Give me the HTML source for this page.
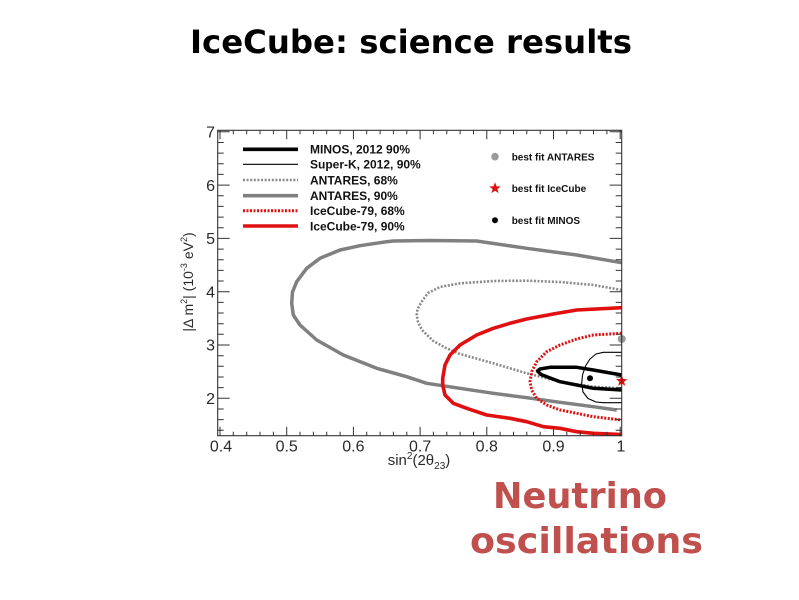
<!DOCTYPE html>
<html>
<head>
<meta charset="utf-8">
<style>
  html, body { margin:0; padding:0; background:#ffffff; }
  body { width:799px; height:600px; overflow:hidden; position:relative; }
  svg { position:absolute; left:0; top:0; }
</style>
</head>
<body>
<svg width="799" height="600" viewBox="0 0 799 600" xmlns="http://www.w3.org/2000/svg">
  <rect x="0" y="0" width="799" height="600" fill="#ffffff"/>

  <!-- Slide title -->
  <text x="190" y="53" font-family="'DejaVu Sans', sans-serif" font-weight="bold" font-size="32" fill="#000" textLength="442" lengthAdjust="spacingAndGlyphs">IceCube: science results</text>

  <!-- Curves -->
  <g fill="none" stroke-linejoin="round" stroke-linecap="butt">
    <!-- ANTARES 90% -->
    <path d="M621.7,262.7 L576.7,255 L526.7,248.3 L476.7,241 L430,240.5 L393.3,241 L386.7,241.7 L360,245.7 L340,250 L320,258.3 L306.7,268.3 L296.7,281.7 L292.5,292 L291.7,303.3 L293.3,315 L300,325 L316.7,340 L343.3,355 L376.7,368.3 L406.7,376.7 L426.7,383.3 L460,388.3 L493.3,393.3 L526.7,397.7 L560,402.3 L593.3,406.7 L616.7,410" stroke="#808080" stroke-width="3.5"/>
    <!-- ANTARES 68% -->
    <path d="M621.7,290 L593.3,285 L560,282 L526.7,280.7 L493.3,281 L460,283.3 L440,287 L428,293 L421.7,301.7 L417.5,309 L416.7,315 L418,322 L422,330 L433.3,341 L446,348 L460,354 L493.3,363.3 L526.7,373.3 L560,381.7 L593.3,386.7 L621.7,388.3" stroke="#8a8a8a" stroke-width="2.6" stroke-dasharray="2 1.6"/>
    <!-- IceCube 90% -->
    <path d="M621.7,307.7 L576.7,310 L553.3,314 L526.7,319 L510,323.3 L493.3,328.3 L476.7,335 L460,345 L450,355 L445,365 L442.7,378.3 L442.7,385 L445,395 L453.3,403.3 L466.7,408.3 L486.7,415 L510,418.3 L526.7,421.7 L543.3,426.7 L560,428.3 L576.7,431.7 L593.3,433.3 L621.7,434.5" stroke="#e01010" stroke-width="3.6"/>
    <!-- IceCube 68% -->
    <path d="M621.7,333.3 L593.3,335 L576.7,339 L560,345 L546.7,351.7 L536.7,361.7 L531.7,371.7 L530,381.7 L531.7,390 L536.7,398.3 L546.7,405 L560,410 L576.7,413.3 L593.3,416.7 L621.7,420" stroke="#e01010" stroke-width="3" stroke-dasharray="2 1.5"/>
    <!-- MINOS 90% -->
    <path d="M621.7,375 L593.3,370 L576.7,367.3 L550,367.3 L540,369 L537.5,371 L541,374.5 L560,381.7 L593.3,388.3 L621.7,390" stroke="#000" stroke-width="3.5"/>
    <!-- Super-K 90% -->
    <path d="M621.7,352.3 L603.3,352.3 L596,354 L590,359 L585.5,366 L582.5,375 L581.7,383.3 L583,392 L588,398.5 L596,402 L603.3,402.7 L621.7,402.7" stroke="#000" stroke-width="1.1"/>
  </g>

  <!-- Best fit markers -->
  <circle cx="590" cy="378.3" r="3" fill="#000"/>
  <circle cx="621.7" cy="339" r="4" fill="#9a9a9a"/>
  <polygon transform="translate(621.7,381)" points="0,-6 1.47,-2.02 5.71,-1.85 2.38,0.77 3.53,4.85 0,2.5 -3.53,4.85 -2.38,0.77 -5.71,-1.85 -1.47,-2.02" fill="#e01010"/>

  <!-- Frame -->
  <rect x="217.7" y="130.3" width="404" height="305.4" fill="none" stroke="#333" stroke-width="1.1"/>

  <!-- Ticks -->
  <g stroke="#333" stroke-width="1" fill="none">
    <!-- bottom x ticks -->
    <path d="M220,435.7v-9 M233.3,435.7v-4 M246.7,435.7v-4 M260,435.7v-4 M273.4,435.7v-4 M286.7,435.7v-9 M300,435.7v-4 M313.4,435.7v-4 M326.7,435.7v-4 M340.1,435.7v-4 M353.4,435.7v-9 M366.7,435.7v-4 M380.1,435.7v-4 M393.4,435.7v-4 M406.8,435.7v-4 M420.1,435.7v-9 M433.4,435.7v-4 M446.8,435.7v-4 M460.1,435.7v-4 M473.5,435.7v-4 M486.8,435.7v-9 M500.1,435.7v-4 M513.5,435.7v-4 M526.8,435.7v-4 M540.2,435.7v-4 M553.5,435.7v-9 M566.8,435.7v-4 M580.2,435.7v-4 M593.5,435.7v-4 M606.9,435.7v-4 M620.2,435.7v-9"/>
    <!-- top x ticks -->
    <path d="M220,130.3v9 M233.3,130.3v4 M246.7,130.3v4 M260,130.3v4 M273.4,130.3v4 M286.7,130.3v9 M300,130.3v4 M313.4,130.3v4 M326.7,130.3v4 M340.1,130.3v4 M353.4,130.3v9 M366.7,130.3v4 M380.1,130.3v4 M393.4,130.3v4 M406.8,130.3v4 M420.1,130.3v9 M433.4,130.3v4 M446.8,130.3v4 M460.1,130.3v4 M473.5,130.3v4 M486.8,130.3v9 M500.1,130.3v4 M513.5,130.3v4 M526.8,130.3v4 M540.2,130.3v4 M553.5,130.3v9 M566.8,130.3v4 M580.2,130.3v4 M593.5,130.3v4 M606.9,130.3v4 M620.2,130.3v9"/>
    <!-- left y ticks -->
    <path d="M217.7,430.3h6 M217.7,419.6h6 M217.7,409h6 M217.7,398.3h12 M217.7,387.6h6 M217.7,377h6 M217.7,366.3h6 M217.7,355.7h6 M217.7,345h12 M217.7,334.3h6 M217.7,323.7h6 M217.7,313h6 M217.7,302.4h6 M217.7,291.7h12 M217.7,281h6 M217.7,270.4h6 M217.7,259.7h6 M217.7,249.1h6 M217.7,238.4h12 M217.7,227.7h6 M217.7,217.1h6 M217.7,206.4h6 M217.7,195.8h6 M217.7,185.1h12 M217.7,174.4h6 M217.7,163.8h6 M217.7,153.1h6 M217.7,142.5h6 M217.7,131.8h12"/>
    <!-- right y ticks -->
    <path d="M621.7,430.3h-6 M621.7,419.6h-6 M621.7,409h-6 M621.7,398.3h-12 M621.7,387.6h-6 M621.7,377h-6 M621.7,366.3h-6 M621.7,355.7h-6 M621.7,345h-12 M621.7,334.3h-6 M621.7,323.7h-6 M621.7,313h-6 M621.7,302.4h-6 M621.7,291.7h-12 M621.7,281h-6 M621.7,270.4h-6 M621.7,259.7h-6 M621.7,249.1h-6 M621.7,238.4h-12 M621.7,227.7h-6 M621.7,217.1h-6 M621.7,206.4h-6 M621.7,195.8h-6 M621.7,185.1h-12 M621.7,174.4h-6 M621.7,163.8h-6 M621.7,153.1h-6 M621.7,142.5h-6 M621.7,131.8h-12"/>
  </g>

  <!-- Tick labels -->
  <g font-family="'Liberation Sans', Arial, sans-serif" font-size="16" fill="#2a2a2a">
    <g text-anchor="middle">
      <text x="221" y="451.5">0.4</text>
      <text x="286.7" y="451.5">0.5</text>
      <text x="353.4" y="451.5">0.6</text>
      <text x="420.1" y="451.5">0.7</text>
      <text x="486.8" y="451.5">0.8</text>
      <text x="553.5" y="451.5">0.9</text>
      <text x="621" y="451.5">1</text>
    </g>
    <g text-anchor="end">
      <text x="215" y="404">2</text>
      <text x="215" y="350.7">3</text>
      <text x="215" y="297.4">4</text>
      <text x="215" y="244.1">5</text>
      <text x="215" y="190.8">6</text>
      <text x="215" y="137.5">7</text>
    </g>
  </g>

  <!-- Axis titles -->
  <text x="419" y="465" text-anchor="middle" font-family="'Liberation Sans', Arial, sans-serif" font-size="15" fill="#2a2a2a">sin<tspan font-size="10" dy="-6">2</tspan><tspan dy="6">(2θ</tspan><tspan font-size="10" dy="4">23</tspan><tspan dy="-4">)</tspan></text>
  <text transform="translate(193,282) rotate(-90)" x="0" y="0" text-anchor="middle" font-family="'Liberation Sans', Arial, sans-serif" font-size="14" fill="#2a2a2a">|Δ m<tspan font-size="9" dy="-6">2</tspan><tspan dy="6">| (10</tspan><tspan font-size="9" dy="-6">-3</tspan><tspan dy="6"> eV</tspan><tspan font-size="9" dy="-6">2</tspan><tspan dy="6">)</tspan></text>

  <!-- Legend (left) -->
  <g fill="none">
    <line x1="243" y1="149.3" x2="298" y2="149.3" stroke="#000" stroke-width="3.6"/>
    <line x1="243" y1="164.3" x2="298" y2="164.3" stroke="#000" stroke-width="1.1"/>
    <line x1="243" y1="180" x2="298" y2="180" stroke="#8a8a8a" stroke-width="2.6" stroke-dasharray="2 1.6"/>
    <line x1="243" y1="195.7" x2="298" y2="195.7" stroke="#808080" stroke-width="3.6"/>
    <line x1="243" y1="210.7" x2="298" y2="210.7" stroke="#e01010" stroke-width="3" stroke-dasharray="2 1.5"/>
    <line x1="243" y1="226" x2="298" y2="226" stroke="#e01010" stroke-width="3.6"/>
  </g>
  <g font-family="'Liberation Sans', Arial, sans-serif" font-size="12" font-weight="bold" fill="#111">
    <text x="310" y="153.7">MINOS, 2012 90%</text>
    <text x="310" y="168.7">Super-K, 2012, 90%</text>
    <text x="310" y="184.4">ANTARES, 68%</text>
    <text x="310" y="200.1">ANTARES, 90%</text>
    <text x="310" y="215.1">IceCube-79, 68%</text>
    <text x="310" y="230.4">IceCube-79, 90%</text>
  </g>

  <!-- Legend (right) -->
  <circle cx="495" cy="156.7" r="3.8" fill="#9a9a9a"/>
  <polygon transform="translate(495,188.3)" points="0,-6 1.47,-2.02 5.71,-1.85 2.38,0.77 3.53,4.85 0,2.5 -3.53,4.85 -2.38,0.77 -5.71,-1.85 -1.47,-2.02" fill="#e01010"/>
  <circle cx="495" cy="220.3" r="3" fill="#000"/>
  <g font-family="'Liberation Sans', Arial, sans-serif" font-size="10" font-weight="bold" fill="#111">
    <text x="511.7" y="160.3">best fit ANTARES</text>
    <text x="511.7" y="191.9">best fit IceCube</text>
    <text x="511.7" y="223.9">best fit MINOS</text>
  </g>

  <!-- Red caption -->
  <g font-family="'DejaVu Sans', sans-serif" font-weight="bold" font-size="36" fill="#c0504d">
    <text x="493" y="508" textLength="174" lengthAdjust="spacingAndGlyphs">Neutrino</text>
    <text x="470" y="553" textLength="233" lengthAdjust="spacingAndGlyphs">oscillations</text>
  </g>
</svg>
</body>
</html>
